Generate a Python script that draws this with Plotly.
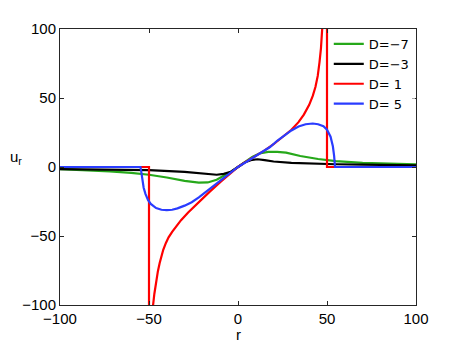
import plotly.graph_objects as go

# D = -7 (green)
r_m7 = [-100, -85, -72, -60, -50, -40, -30, -22, -17, -12, -8, -4, 0, 4, 8, 12, 17, 22, 27, 35, 45, 55, 70, 85, 100]
u_m7 = [-1.5, -2.2, -3.2, -4.3, -5.6, -7.6, -10.0, -11.3, -11.2, -9.3, -6.5, -3.5, 0, 3.8, 7.2, 9.8, 11.0, 11.0, 10.4, 8.0, 5.8, 4.2, 3.0, 2.4, 2.0]

# D = -3 (black)
r_m3 = [-100, -70, -50, -30, -20, -12, -8, -4, 0, 4, 8, 11, 15, 20, 30, 40, 55, 70, 100]
u_m3 = [-1.6, -2.0, -2.3, -3.6, -5.0, -5.6, -5.0, -3.4, 0, 3.5, 5.2, 5.6, 5.0, 4.0, 3.0, 2.5, 2.0, 1.7, 1.2]

# D = 1 (red)
r_p1 = [-100, -50, -50, -48.5, -47.7, -47, -46, -45, -44, -43, -42, -40.5, -39, -37, -35, -32, -28, -24, -20, -16, -10, -5, 0,
        5, 10, 15, 20, 25, 30, 34, 37, 40, 42, 43.5, 44.8, 45.8, 46.6, 47.3, 48.5, 50, 50, 100]
u_p1 = [0, 0, -400, -180, -100, -92, -83, -75.5, -69.5, -64.5, -60, -55, -51, -47, -43.5, -38.5, -33, -27.8, -22.8, -18, -11, -5.4, 0,
        4.2, 8, 12, 16.5, 21.5, 27, 32.5, 38, 45, 51.5, 58, 66, 76, 86, 100, 180, 400, 0, 0]

# D = 5 (blue)
r_p5 = [-100, -54.8, -54.4, -53.8, -53, -52, -50.5, -49, -46, -43, -40, -37, -34, -30, -26, -22, -18, -10, -5, 0,
        5, 10, 13, 18, 22, 26, 30, 34, 38, 42, 45, 48, 50, 52, 53.3, 54, 54.5, 100]
u_p5 = [0, 0, -3, -9, -15, -19.5, -24, -26.8, -29.8, -31, -31.3, -31, -30, -28, -25.5, -22, -18, -10, -5, 0,
        4, 8, 10.5, 14.5, 19, 23, 26.5, 29.3, 31, 31.5, 31, 29.5, 27, 22, 15, 8, 0, 0]

names = ["D=\u22127", "D=\u22123", "D= 1", "D= 5"]
colors = ["#26a81a", "#000000", "#ff0000", "#2a3cff"]
series = [(r_m7, u_m7), (r_m3, u_m3), (r_p1, u_p1), (r_p5, u_p5)]

tick_vals = [-100, -50, 0, 50, 100]
tick_text = ["\u2212100", "\u221250", "0", "50", "100"]

FONT = "Liberation Sans, Arial, Helvetica"

fig = go.Figure()
for (rr, uu), nm, c in zip(series, names, colors):
    fig.add_trace(go.Scatter(x=rr, y=uu, mode="lines", name=nm,
                             line=dict(color=c, width=2.2)))

axis_common = dict(showgrid=False, zeroline=False, showline=True, linecolor="#262626",
                   linewidth=1, mirror="ticks", ticks="inside", ticklen=4,
                   tickcolor="#262626", tickvals=tick_vals, ticktext=tick_text,
                   tickfont=dict(family=FONT, size=15, color="#000"))

fig.update_xaxes(range=[-100, 100], **axis_common)
fig.update_yaxes(range=[-100, 100], **axis_common)

# page body has an 8px margin, so the figure is drawn 8px in and sized to fit
fig.update_layout(
    width=452, height=338,
    margin=dict(l=52, r=44, t=17, b=41),
    plot_bgcolor="white", paper_bgcolor="white",
    font=dict(family=FONT, size=15, color="#000"),
    legend=dict(x=0.755, y=1.0, xanchor="left", yanchor="top",
                bgcolor="rgba(255,255,255,0.6)", borderwidth=0,
                font=dict(size=13, family="DejaVu Sans"), tracegroupgap=0),
    annotations=[
        dict(text="u<sub>r</sub>", xref="paper", yref="paper", x=-0.145, y=0.535,
             xanchor="left", yanchor="middle", showarrow=False,
             font=dict(size=15, family=FONT)),
        dict(text="r", xref="paper", yref="paper", x=0.5, y=-0.107,
             xanchor="center", yanchor="middle", showarrow=False,
             font=dict(size=15, family=FONT)),
    ],
    showlegend=True,
)

fig.write_html("out.html")
